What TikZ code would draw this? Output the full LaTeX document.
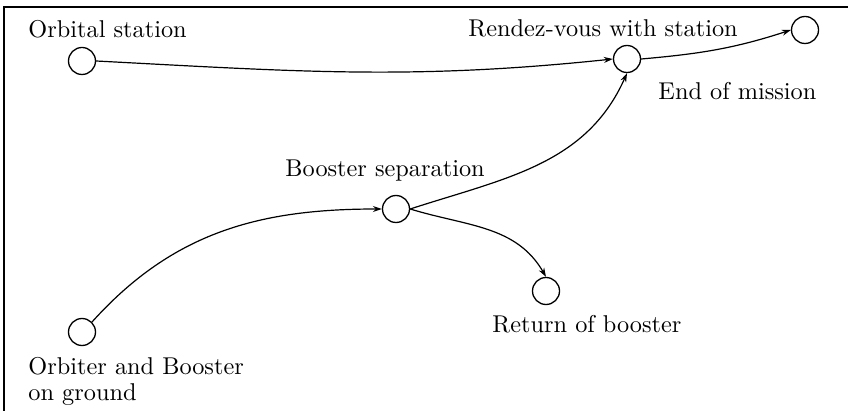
\documentclass[tikz,border=0pt]{standalone}
\usetikzlibrary{arrows.meta}
\begin{document}
\begin{tikzpicture}[x=1pt,y=-1pt,
  event/.style={circle,draw,line width=1.3pt,minimum size=27pt,inner sep=0pt},
  lbl/.style={inner sep=0pt,scale=2.43,font=\fontsize{10}{11}\selectfont},
  flow/.style={line width=1.2pt,-{Stealth[length=9pt,width=6pt]}},
  frame/.style={line width=1.3pt}]
  \useasboundingbox (0,0) rectangle (848,411);
  % partial frame: top and left edges
  \draw[frame] (4,411) -- (4,7) -- (848,7);

  % events
  \node[event] (os) at (82,61) {};
  \node[event] (rv) at (627,59) {};
  \node[event] (em) at (805,30) {};
  \node[event] (bs) at (396,209) {};
  \node[event] (rb) at (546,291) {};
  \node[event] (og) at (82,332) {};

  % labels
  \node[lbl,anchor=base west] (tos) at (28,38) {Orbital station};
  \node[lbl,anchor=base west] (trv) at (468,37) {Rendez-vous with station};
  \node[lbl,anchor=base west] (tem) at (658,100) {End of mission};
  \node[lbl,anchor=base west] (tbs) at (285,177) {Booster separation};
  \node[lbl,anchor=base west] (trb) at (492,332) {Return of booster};
  \node[lbl,anchor=base west] (tog) at (28,374) {Orbiter and Booster};
  \node[lbl,anchor=base west] (tog2) at (28,400) {on ground};

  % transitions
  \draw[flow] (os.east) to[out=-3,in=186] (rv.west);
  \draw[flow] (rv.east) to[out=5,in=198] (em.west);
  \draw[flow] (og.north east) to[out=48,in=180] (bs.west);
  \draw[flow] (bs.east) to[out=18,in=-114] (rv.south);
  \draw[flow] (bs.east) to[out=-17,in=120] (rb.north);
\end{tikzpicture}
\end{document}
